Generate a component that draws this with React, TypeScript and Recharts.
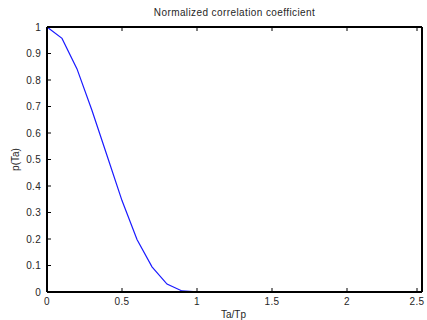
import React from "react";
import { LineChart, Line, XAxis, YAxis } from "recharts";

// Ta/Tp samples and the normalized correlation
const ratio = [
  0, 0.1, 0.2, 0.3, 0.4, 0.5, 0.6, 0.7, 0.8, 0.9, 1.0, 1.1, 1.2, 1.3, 1.4, 1.5,
  1.6, 1.7, 1.8, 1.9, 2.0, 2.1, 2.2, 2.3, 2.4, 2.5,
];
const rho = [
  1, 0.957, 0.842, 0.685, 0.515, 0.345, 0.198, 0.095, 0.03, 0.004, 0.0003, 0, 0,
  0, 0, 0, 0, 0, 0, 0, 0, 0, 0, 0, 0, 0,
];
const xTicks = [0, 0.5, 1, 1.5, 2, 2.5];
const yTicks = [0, 0.1, 0.2, 0.3, 0.4, 0.5, 0.6, 0.7, 0.8, 0.9, 1];

const data = ratio.map((r, i) => ({ r, rho: rho[i] }));

const font = "'Liberation Sans', Arial, sans-serif";
const textColor = "#262626";
const fmt = (v: number) => String(v);

const BottomTick = (props: any) => {
  const { x, y, payload } = props;
  return (
    <g>
      <line x1={x} y1={y} x2={x} y2={y - 4} stroke="#000" strokeWidth={1} />
      <text x={x} y={y + 13} textAnchor="middle" fontSize={10} letterSpacing={0.3} fill={textColor} fontFamily={font}>
        {fmt(payload.value)}
      </text>
    </g>
  );
};

const LeftTick = (props: any) => {
  const { x, y, payload } = props;
  return (
    <g>
      <line x1={x} y1={y} x2={x + 4} y2={y} stroke="#000" strokeWidth={1} />
      <text x={x - 6} y={y + 3.5} textAnchor="end" fontSize={10} letterSpacing={0.3} fill={textColor} fontFamily={font}>
        {fmt(payload.value)}
      </text>
    </g>
  );
};

const TopTick = (props: any) => {
  const { x, y } = props;
  return <line x1={x} y1={y} x2={x} y2={y + 4} stroke="#000" strokeWidth={1} />;
};

const RightTick = (props: any) => {
  const { x, y } = props;
  return <line x1={x} y1={y} x2={x - 4} y2={y} stroke="#000" strokeWidth={1} />;
};

export default function App() {
  return (
    <div style={{ position: "absolute", left: 0, top: 0, background: "#fff" }}>
      <LineChart
        width={427}
        height={320}
        data={data}
        margin={{ top: 26, right: 4, bottom: 0, left: 0 }}
      >
        <XAxis
          dataKey="r"
          type="number"
          domain={[0, 2.5]}
          ticks={xTicks}
          height={28}
          tickSize={0}
          tickMargin={0}
          tickLine={false}
          tick={<BottomTick />}
          axisLine={{ stroke: "#000", strokeWidth: 2 }}
          label={{
            content: (p: any) => (
              <text
                x={p.viewBox.x + p.viewBox.width / 2 - 1}
                y={p.viewBox.y + 26}
                textAnchor="middle"
                fontSize={10}
                fill={textColor}
                fontFamily={font}
              >
                Ta/Tp
              </text>
            ),
          }}
        />
        <XAxis
          xAxisId="top"
          orientation="top"
          dataKey="r"
          type="number"
          domain={[0, 2.5]}
          ticks={xTicks}
          height={1}
          tickSize={0}
          tickMargin={0}
          tickLine={false}
          tick={<TopTick />}
          axisLine={{ stroke: "#000", strokeWidth: 2 }}
          label={{
            content: (p: any) => (
              <text
                x={p.viewBox.x + p.viewBox.width / 2}
                y={p.viewBox.y - 10}
                textAnchor="middle"
                fontSize={10}
                letterSpacing={0.4}
                fill={textColor}
                fontFamily={font}
              >
                Normalized correlation coefficient
              </text>
            ),
          }}
        />
        <YAxis
          type="number"
          domain={[0, 1]}
          ticks={yTicks}
          width={47}
          tickSize={0}
          tickMargin={0}
          tickLine={false}
          tick={<LeftTick />}
          axisLine={{ stroke: "#000", strokeWidth: 2 }}
          label={{
            content: (p: any) => {
              const cx = p.viewBox.x + 19;
              const cy = p.viewBox.y + p.viewBox.height / 2;
              return (
                <text
                  x={cx}
                  y={cy}
                  transform={`rotate(-90 ${cx} ${cy})`}
                  textAnchor="middle"
                  fontSize={10}
                  fill={textColor}
                  fontFamily={font}
                >
                  p(Ta)
                </text>
              );
            },
          }}
        />
        <YAxis
          yAxisId="right"
          orientation="right"
          type="number"
          domain={[0, 1]}
          ticks={yTicks}
          width={1}
          tickSize={0}
          tickMargin={0}
          tickLine={false}
          tick={<RightTick />}
          axisLine={{ stroke: "#000", strokeWidth: 2 }}
        />
        <Line
          dataKey="rho"
          type="linear"
          stroke="#1a1aff"
          strokeWidth={1.2}
          dot={false}
          isAnimationActive={false}
        />
      </LineChart>
    </div>
  );
}
